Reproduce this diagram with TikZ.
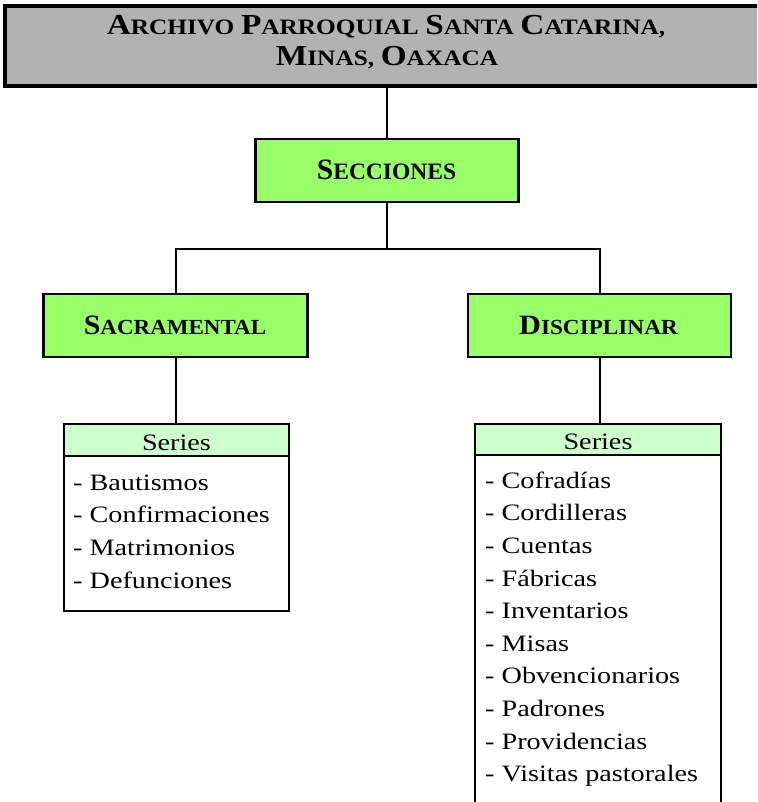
\documentclass[tikz,border=0pt]{standalone}
\usepackage{fontspec}
\usepackage{graphicx}
\setmainfont{Liberation Serif}
\newfontfamily\itemfont[FakeStretch=1.2]{Liberation Serif}
\definecolor{titlegray}{HTML}{B2B2B2}
\definecolor{boxgreen}{HTML}{99FF66}
\definecolor{headgreen}{HTML}{CCFFCC}
\newcommand\scw[4]{{\fontsize{#1}{#1}\selectfont #3}{\fontsize{#2}{#2}\selectfont #4}}
\tikzset{
  titlebox/.style={draw, line width=3.2pt, fill=titlegray, inner sep=0pt},
  greenbox/.style={draw, line width=2.9pt, fill=boxgreen, inner sep=0pt},
  headbox/.style={draw, line width=2.7pt, fill=headgreen, inner sep=0pt,
    text height=20pt, text depth=0pt,
    font=\itemfont\fontsize{23.5}{23.5}\selectfont},
  listbox/.style={draw, line width=2.7pt, fill=white, inner sep=0pt},
  bold/.style={anchor=base, inner sep=0pt, font=\bfseries\fontsize{23}{23}\selectfont},
  itemtext/.style={anchor=base west, inner sep=0pt, font=\itemfont\fontsize{23.5}{23.5}\selectfont},
  conn/.style={draw, line width=2pt}
}
\begin{document}
\begin{tikzpicture}[x=1pt,y=-1pt]
\useasboundingbox (0,0) rectangle (757,802);
\clip (0,0) rectangle (757,802);
% title
\node[titlebox, minimum width=770pt, minimum height=80pt] (title) at (390,46) {};
\node[bold] (t1) at (386,34.5) {\scalebox{1.15}[1]{\scw{29}{22}{A}{RCHIVO} \scw{29}{22}{P}{ARROQUIAL} \scw{29}{22}{S}{ANTA} \scw{29}{22}{C}{ATARINA,}}};
\node[bold] (t2) at (387,65.5) {\scalebox{1.15}[1]{\scw{29}{22}{M}{INAS,} \scw{29}{22}{O}{AXACA}}};
% secciones
\node[greenbox, minimum width=263pt, minimum height=63pt] (secc) at (387,170.5) {};
\node[bold] (tsecc) at (386.5,179.3) {\scw{29.5}{23.5}{S}{ECCIONES}};
% sacramental / disciplinar
\node[greenbox, minimum width=264pt, minimum height=63pt] (sac) at (175.5,325.5) {};
\node[bold] (tsac) at (175,334) {\scalebox{1.07}[1]{\scw{28}{21.5}{S}{ACRAMENTAL}}};
\node[greenbox, minimum width=263pt, minimum height=63pt] (dis) at (599.5,325.5) {};
\node[bold] (tdis) at (598.5,334) {\scalebox{1.08}[1]{\scw{28}{21.5}{D}{ISCIPLINAR}}};
% series boxes
\node[listbox, minimum width=225pt, minimum height=155pt] (list1) at (176.5,533.5) {};
\node[headbox, minimum width=225pt, minimum height=32pt] (ser1) at (176.5,440) {Series};
\node[listbox, minimum width=246pt, minimum height=375pt] (list2) at (598,642.5) {};
\node[headbox, minimum width=246pt, minimum height=31pt] (ser2) at (598,439.5) {Series};
% items
\foreach \t [count=\i] in {Bautismos, Confirmaciones, Matrimonios, Defunciones}
  \node[itemtext] (sa\i) at (73,{490+32.8*(\i-1)}) {- \t};
\foreach \t [count=\i] in {Cofradías, Cordilleras, Cuentas, Fábricas, Inventarios, Misas, Obvencionarios, Padrones, Providencias, Visitas pastorales}
  \node[itemtext] (di\i) at (485,{488.3+32.6*(\i-1)}) {- \t};
% connectors
\coordinate (bus) at (387,249);
\draw[conn] (secc.north) -- (secc.north |- title.south);
\draw[conn] (secc.south) -- (bus);
\draw[conn] (sac.north) |- (bus) -| (dis.north);
\draw[conn] (sac.south) -- (sac.south |- ser1.north);
\draw[conn] (dis.south) -- (dis.south |- ser2.north);
\end{tikzpicture}
\end{document}
